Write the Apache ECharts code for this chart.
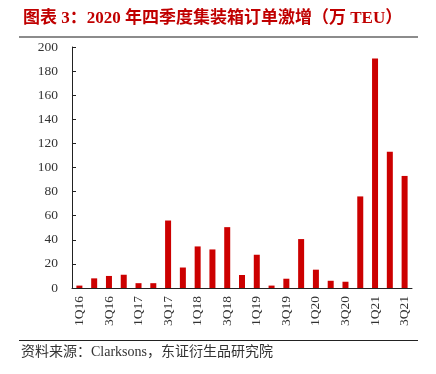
<!DOCTYPE html>
<html><head><meta charset="utf-8">
<script src="https://cdn.jsdelivr.net/npm/echarts@6/dist/echarts.min.js"></script>
<style>html,body{margin:0;padding:0;background:#fff}#c{width:436px;height:374px}</style>
</head><body><div id="c"></div>
<script>
const categories = ['1Q16','2Q16','3Q16','4Q16','1Q17','2Q17','3Q17','4Q17','1Q18','2Q18','3Q18','4Q18','1Q19','2Q19','3Q19','4Q19','1Q20','2Q20','3Q20','4Q20','1Q21','2Q21','3Q21'];
const orders = [2,8,10,11,4,4,56,17,34.5,32,50.5,10.8,27.6,2,7.7,40.6,15.2,6,5.2,76,190.5,113,93];
const yTicks = [0,20,40,60,80,100,120,140,160,180,200];
const titleText = '图表 3：2020 年四季度集装箱订单激增（万 TEU）';
const sourceText = '资料来源：Clarksons，东证衍生品研究院';
const serif = '"Liberation Serif", "Noto Sans CJK SC", serif';
const chart = echarts.init(document.getElementById('c'), null, {renderer:'canvas'});
chart.setOption({
  animation:false,
  backgroundColor:'#fff',
  title:{text:titleText,left:18,top:5,textStyle:{color:'#c00000',fontSize:17,fontWeight:'bold',fontFamily:serif}},
  graphic:[
    {type:'line',shape:{x1:19,y1:37,x2:418,y2:37},style:{stroke:'#8c8c8c',lineWidth:2}},
    {type:'line',shape:{x1:19,y1:340.5,x2:418,y2:340.5},style:{stroke:'#222',lineWidth:1}},
    {type:'text',left:21,top:345,style:{text:sourceText,font:'14px '+serif,fill:'#333'}}
  ],
  grid:{left:72,right:24,top:47,bottom:86},
  xAxis:{type:'category',data:categories,
    axisLine:{lineStyle:{color:'#222',width:1}},
    axisTick:{inside:true,length:4,lineStyle:{color:'#222'}},
    axisLabel:{interval:1,rotate:90,color:'#333',fontSize:13.5,fontFamily:serif,margin:8}},
  yAxis:{type:'value',min:0,max:200,interval:20,
    splitLine:{show:false},
    axisLine:{show:true,lineStyle:{color:'#222',width:1}},
    axisTick:{show:true,inside:true,length:4,lineStyle:{color:'#222'}},
    axisLabel:{color:'#333',fontSize:13.5,fontFamily:serif,margin:14,
      formatter:v=>yTicks.includes(v)?String(v):''}},
  series:[{type:'bar',data:orders,barWidth:6,itemStyle:{color:'#cc0000'}}]
});
</script></body></html>
